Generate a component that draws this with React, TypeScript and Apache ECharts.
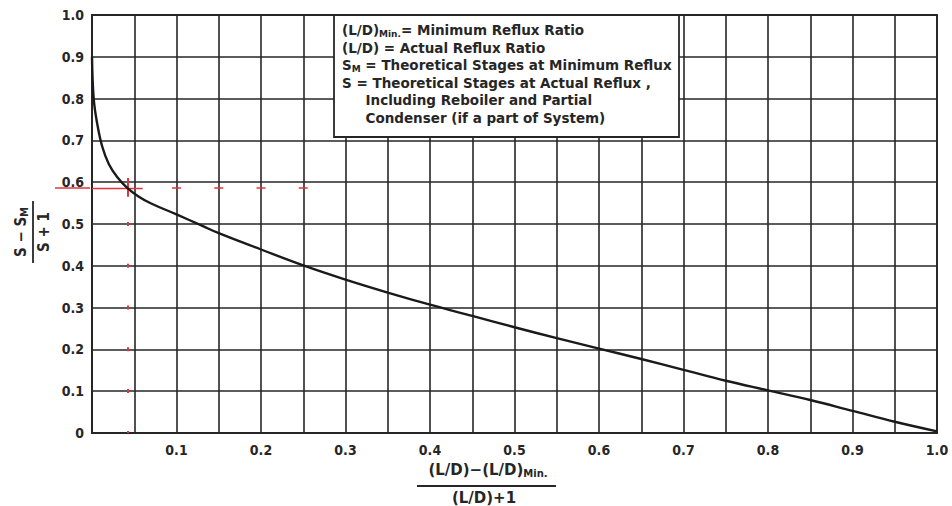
import React, { useEffect, useRef } from 'react';
import * as echarts from 'echarts';

// Gilliland correlation curve
const CURVE_X = [0, 0.002, 0.006, 0.012, 0.02, 0.03, 0.042, 0.055, 0.07, 0.1, 0.13, 0.15, 0.2, 0.25, 0.3, 0.35, 0.4, 0.45, 0.5, 0.55, 0.6, 0.65, 0.7, 0.75, 0.8, 0.85, 0.9, 0.95, 1.0];
const CURVE_Y = [0.9, 0.8, 0.742, 0.686, 0.643, 0.612, 0.586, 0.566, 0.549, 0.523, 0.496, 0.478, 0.439, 0.401, 0.367, 0.336, 0.307, 0.28, 0.253, 0.227, 0.202, 0.177, 0.151, 0.125, 0.102, 0.079, 0.053, 0.027, 0.004];

// red reading marks
const TARGET_X = 0.042;
const TARGET_Y = 0.586;
const H_DASH_END = 0.2553;
const CROSS_Y = [0.565, 0.61];

const LEGEND_LINES = [
  '(L/D){sub|Min.}= Minimum Reflux Ratio',
  '(L/D) = Actual Reflux Ratio',
  'S{sub|M} = Theoretical Stages at Minimum Reflux',
  'S = Theoretical Stages at Actual Reflux ,',
  '     Including Reboiler and Partial',
  '     Condenser (if a part of System)',
];

const X_TITLE_NUM = '(L/D)−(L/D){sub|Min.}';
const X_TITLE_DEN = '(L/D)+1';
const Y_TITLE_NUM = 'S − S{sub|M}';
const Y_TITLE_DEN = 'S + 1';

const FONT = "'DejaVu Sans Condensed', 'Liberation Sans Narrow', 'DejaVu Sans', sans-serif";
const WIDE_FONT = "'DejaVu Sans', 'Liberation Sans', sans-serif";
const INK = '#262626';
const RED = '#e3333c';

export default function App() {
  const ref = useRef<HTMLDivElement>(null);
  useEffect(() => {
    const chart = echarts.init(ref.current!, null, { renderer: 'svg' });
    const data = CURVE_X.map((x, i) => [x, CURVE_Y[i]]);
    const subStyle = { fontSize: 9, fontFamily: WIDE_FONT, fontWeight: 'bold' as const, fill: INK, verticalAlign: 'bottom' as const, lineHeight: 8 };
    const legendTexts = LEGEND_LINES.map((t, i) => ({
      type: 'text',
      x: 342,
      y: 30 + i * 17.6,
      z: 101,
      style: {
        text: t,
        fontSize: 13.5,
        fontFamily: WIDE_FONT,
        fontWeight: 'bold',
        fill: INK,
        verticalAlign: 'middle',
        lineHeight: 16,
        rich: { sub: subStyle },
      },
    }));
    const option: any = {
      animation: false,
      backgroundColor: '#fff',
      grid: { left: 92, right: 15, top: 15, bottom: 73, show: true, borderColor: INK, borderWidth: 1.8 },
      xAxis: {
        type: 'value', min: 0, max: 1, interval: 0.05,
        axisLine: { show: true, lineStyle: { color: INK, width: 2 } },
        axisTick: { show: false },
        splitLine: { show: true, lineStyle: { color: INK, width: 1.6 } },
        axisLabel: {
          margin: 10, color: INK, fontSize: 14, fontWeight: 'bold', fontFamily: FONT,
          formatter: (v: number) => (v === 0 || Math.round(v * 100) % 10 !== 0 ? '' : v.toFixed(1)),
        },
      },
      yAxis: {
        type: 'value', min: 0, max: 1, interval: 0.1,
        axisLine: { show: true, lineStyle: { color: INK, width: 2 } },
        axisTick: { show: false },
        splitLine: { show: true, lineStyle: { color: INK, width: 1.6 } },
        axisLabel: {
          margin: 8, color: INK, fontSize: 14, fontWeight: 'bold', fontFamily: FONT,
          formatter: (v: number) => (v === 0 ? '0' : v.toFixed(1)),
        },
      },
      series: [
        {
          type: 'line', data, showSymbol: false, smooth: 0.4,
          lineStyle: { color: '#1a1a1a', width: 2.4 },
          z: 5,
          markLine: {
            silent: true, symbol: 'none', label: { show: false }, animation: false,
            data: [
              [{ coord: [0, TARGET_Y], lineStyle: { color: RED, width: 1.4, type: 'solid' } }, { coord: [0.06, TARGET_Y] }],
              [{ coord: [0.0947, TARGET_Y], lineStyle: { color: RED, width: 1.6, type: [9, 33.25] } }, { coord: [H_DASH_END, TARGET_Y] }],
              [{ coord: [TARGET_X, 0.505], lineStyle: { color: RED, width: 2, type: [4, 37.8] } }, { coord: [TARGET_X, 0] }],
              [{ coord: [TARGET_X, CROSS_Y[1]], lineStyle: { color: RED, width: 2, type: 'solid' } }, { coord: [TARGET_X, CROSS_Y[0]] }],
            ],
          },
        },
      ],
      graphic: [
        { type: 'rect', z: 100, shape: { x: 334, y: 15, width: 345, height: 122 }, style: { fill: '#fff', stroke: INK, lineWidth: 1.8 } },
        ...legendTexts,
        {
          type: 'text', x: 488, y: 470, z: 101,
          style: { text: X_TITLE_NUM, align: 'center', verticalAlign: 'middle', fontSize: 15, fontFamily: WIDE_FONT, fontWeight: 'bold', fill: INK, lineHeight: 16, rich: { sub: { ...subStyle, fontSize: 10 } } },
        },
        { type: 'line', z: 101, shape: { x1: 417, y1: 486, x2: 556, y2: 486 }, style: { stroke: INK, lineWidth: 1.8 } },
        {
          type: 'text', x: 484, y: 498, z: 101,
          style: { text: X_TITLE_DEN, align: 'center', verticalAlign: 'middle', fontSize: 15, fontFamily: WIDE_FONT, fontWeight: 'bold', fill: INK },
        },
        {
          type: 'group', x: 33, y: 232, rotation: Math.PI / 2, z: 101,
          children: [
            { type: 'text', x: 0, y: -12, style: { text: Y_TITLE_NUM, align: 'center', verticalAlign: 'middle', fontSize: 15, fontFamily: FONT, fontWeight: 'bold', fill: INK, lineHeight: 16, rich: { sub: { ...subStyle, fontSize: 10 } } } },
            { type: 'line', shape: { x1: -31, y1: 0, x2: 31, y2: 0 }, style: { stroke: INK, lineWidth: 1.8 } },
            { type: 'text', x: 0, y: 11, style: { text: Y_TITLE_DEN, align: 'center', verticalAlign: 'middle', fontSize: 15, fontFamily: FONT, fontWeight: 'bold', fill: INK } },
          ],
        },
      ],
    };
    chart.setOption(option);
    // red reading line continues a little to the left of the y axis
    const p = chart.convertToPixel({ gridIndex: 0 }, [0, TARGET_Y]) as number[];
    chart.setOption({
      graphic: [
        ...option.graphic,
        { type: 'line', z: 102, shape: { x1: p[0] - 37, y1: p[1], x2: p[0] - 2, y2: p[1] }, style: { stroke: RED, lineWidth: 1.4 } },
      ],
    });
    return () => chart.dispose();
  }, []);
  return <div ref={ref} style={{ position: 'fixed', left: 0, top: 0, width: 952, height: 506, background: '#fff' }} />;
}
